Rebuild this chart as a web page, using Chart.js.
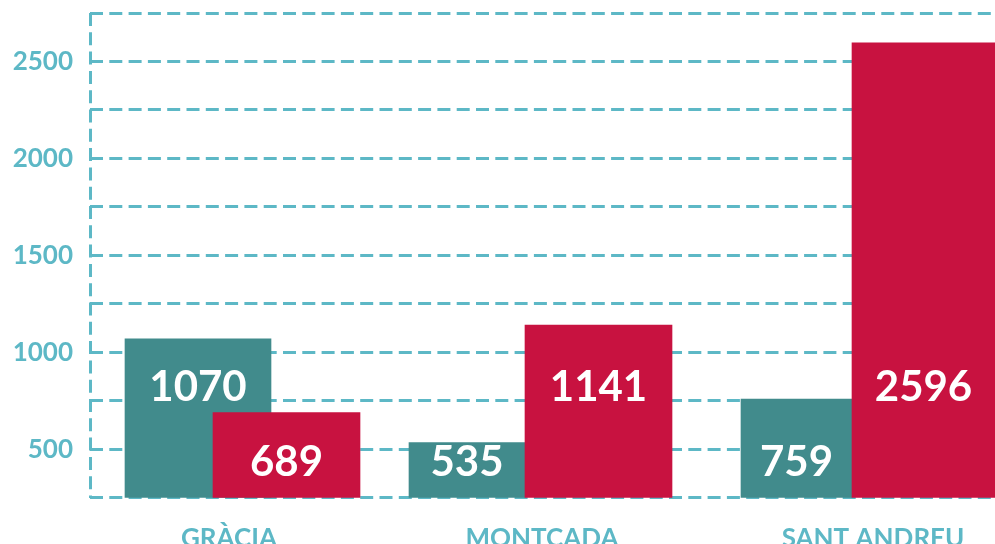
<!DOCTYPE html>
<html>
<head>
<meta charset="utf-8">
<script src="https://cdn.jsdelivr.net/npm/chart.js@4"></script>
<style>
  html, body { margin: 0; padding: 0; background: #fff; overflow: hidden; }
  #wrap { position: relative; width: 995px; height: 579px; }
</style>
</head>
<body>
<div id="wrap"><canvas id="chart"></canvas></div>
<script>
// ---- data ----
const categories = ['GRÀCIA', 'MONTCADA', 'SANT ANDREU'];
const tealValues = [1070, 535, 759];
const redValues = [689, 1141, 2596];
const yTickValues = [500, 1000, 1500, 2000, 2500];

// ---- layout (x axis in plot pixels, 0 = axis line) ----
const xMax = 905;
const labelPos = [139, 452, 783];
const tealPos = [108, 377, 706.5];
const tealWidth = [146, 116, 111];
const redPos = [196.5, 508.5, 833.5];
const redWidth = [147, 147, 143];

const TEAL = '#418b8c';
const RED = '#c81240';
const GRID = '#5db8c6';

const datasets = [];
categories.forEach((cat, i) => {
    datasets.push({
        label: cat + ' a',
        data: [{ x: tealPos[i], y: tealValues[i] }],
        backgroundColor: TEAL,
        barThickness: tealWidth[i],
        grouped: false,
        order: 2
    });
    datasets.push({
        label: cat + ' b',
        data: [{ x: redPos[i], y: redValues[i] }],
        backgroundColor: RED,
        barThickness: redWidth[i],
        grouped: false,
        order: 1
    });
});

// value labels inside the bars
const valueLabels = {
    id: 'valueLabels',
    afterDatasetsDraw(chart) {
        const ctx = chart.ctx;
        const yScale = chart.scales.y;
        ctx.save();
        ctx.fillStyle = '#ffffff';
        ctx.font = 'bold 42px Lato';
        ctx.textAlign = 'center';
        ctx.textBaseline = 'middle';
        chart.data.datasets.forEach((ds, i) => {
            const bar = chart.getDatasetMeta(i).data[0];
            const v = ds.data[0].y;
            const anchor = v >= 1000 ? 820 : 430;
            ctx.fillText(String(v), bar.x, yScale.getPixelForValue(anchor));
        });
        ctx.restore();
    }
};

new Chart(document.getElementById('chart'), {
    type: 'bar',
    data: { datasets: datasets },
    options: {
        responsive: true,
        maintainAspectRatio: false,
        animation: false,
        layout: { padding: { top: 13, right: 0, left: 0, bottom: 0 } },
        plugins: {
            legend: { display: false },
            tooltip: { enabled: false }
        },
        scales: {
            x: {
                type: 'linear',
                min: 0,
                max: xMax,
                offset: false,
                afterBuildTicks(scale) {
                    scale.ticks = [{ value: 0 }].concat(labelPos.map(p => ({ value: p })));
                },
                ticks: {
                    autoSkip: false,
                    maxRotation: 0,
                    padding: 25,
                    color: GRID,
                    font: { family: 'Lato', weight: 'bold', size: 26 },
                    callback(value) {
                        const idx = labelPos.indexOf(value);
                        return idx >= 0 ? categories[idx] : '';
                    }
                },
                grid: {
                    offset: false,
                    drawTicks: false,
                    lineWidth: 3,
                    color: (c) => (c.tick && c.tick.value === 0) ? GRID : 'rgba(0,0,0,0)'
                },
                border: { display: false, dash: [13, 6.3] }
            },
            y: {
                min: 250,
                max: 2750,
                afterBuildTicks(scale) {
                    const t = [];
                    for (let v = 250; v <= 2750; v += 250) t.push({ value: v });
                    scale.ticks = t;
                },
                afterFit(scale) {
                    scale.width = 90;
                    scale.paddingTop = 0;
                    scale.paddingBottom = 0;
                },
                ticks: {
                    padding: 17,
                    color: GRID,
                    font: { family: 'Lato', weight: 'bold', size: 26 },
                    callback(value) {
                        return yTickValues.includes(value) ? String(value) : '';
                    }
                },
                grid: {
                    drawTicks: false,
                    lineWidth: 3,
                    color: GRID
                },
                border: { display: false, dash: [13, 6.3] }
            }
        }
    },
    plugins: [valueLabels]
});
</script>
</body>
</html>
